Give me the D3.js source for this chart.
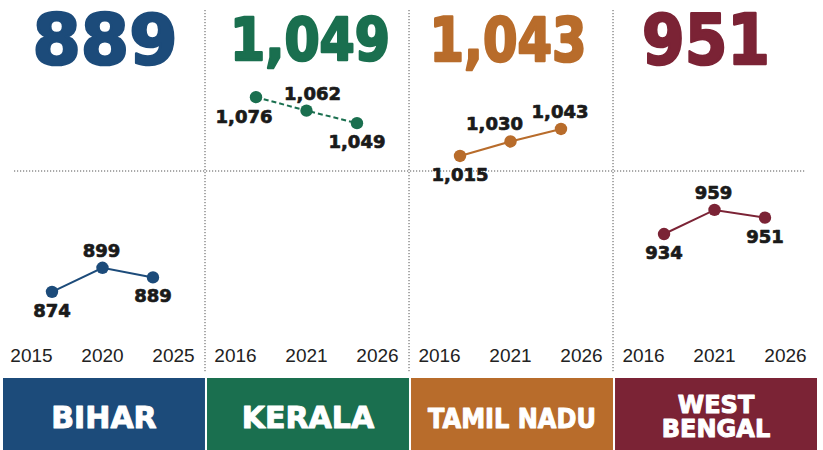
<!DOCTYPE html>
<html>
<head>
<meta charset="utf-8">
<script src="https://cdn.jsdelivr.net/npm/d3@7"></script>
<style>
  body { margin: 0; background: #fff; }
  svg { display: block; }
</style>
</head>
<body>
<svg id="chart"></svg>
<script>
// Data
const states = ["BIHAR", "KERALA", "TAMIL NADU", "WEST BENGAL"];
const tickYears = [
  ["2015", "2020", "2025"],
  ["2016", "2021", "2026"],
  ["2016", "2021", "2026"],
  ["2016", "2021", "2026"]
];
const bihar = [874, 899, 889];
const kerala = [1076, 1062, 1049];
const tamilNadu = [1015, 1030, 1043];
const westBengal = [934, 959, 951];
const series = [bihar, kerala, tamilNadu, westBengal];
const headline = ["889", "1,049", "1,043", "951"];

// Look
const colors = ["#1c4b7a", "#1a6f4f", "#b86c2b", "#7b2335"];
const dashed = [false, true, false, false];
const labelPlace = [
  ["below", "above", "below"],
  ["below-left", "above-right", "below"],
  ["below", "above-left", "above"],
  ["below", "above", "below"]
];
// headline type: size, stretched width, baseline, nudge
const headSize = [70, 59, 61, 70];
const headWidth = [145, 160, 157, 128];
const headBase = [64, 60, 61, 64];
const headDx = [1, 2, -4, -10];

const width = 823, height = 450;
const svg = d3.select("#chart").attr("width", width).attr("height", height);

const heavy = "'DejaVu Sans', Verdana, sans-serif";

const x0 = d3.scaleBand().domain(states).range([3, 817]).paddingInner(0.01);
const bw = x0.bandwidth();
const y = d3.scaleLinear().domain([850, 1100]).range([315, 74]);

const fmt = d3.format(",");
const place = {
  "below": [0, 25], "above": [-1, -11],
  "below-left": [-12, 26], "above-right": [6, -11], "above-left": [-16, -11]
};

/* -------------------------
   GRID: DOTTED DIVIDERS
-------------------------- */
svg.append("line")
  .attr("x1", 14).attr("x2", 806)
  .attr("y1", 171).attr("y2", 171)
  .attr("stroke", "#555").attr("stroke-width", 1)
  .attr("stroke-dasharray", "1.2,1.8");

svg.selectAll("line.vdiv")
  .data(states.slice(1))
  .enter()
  .append("line")
  .attr("class", "vdiv")
  .attr("x1", d => x0(d) - 2).attr("x2", d => x0(d) - 2)
  .attr("y1", 10).attr("y2", 373)
  .attr("stroke", "#555").attr("stroke-width", 1)
  .attr("stroke-dasharray", "1.2,1.8");

/* -------------------------
   PANELS
-------------------------- */
states.forEach((st, i) => {
  const left = x0(st);
  const g = svg.append("g");

  const xTick = d3.scalePoint().domain(tickYears[i]).range([left + 28, left + bw - 32]);
  const xDot = d3.scalePoint().domain(tickYears[i]).range([left + 49, left + bw - 52]);

  // headline number (stroke thickens the bold face)
  g.append("text")
    .attr("x", left + bw / 2 + headDx[i])
    .attr("y", headBase[i])
    .attr("text-anchor", "middle")
    .attr("font-family", heavy)
    .attr("font-weight", "bold")
    .attr("font-size", headSize[i])
    .attr("textLength", headWidth[i])
    .attr("lengthAdjust", "spacingAndGlyphs")
    .attr("fill", colors[i])
    .attr("stroke", colors[i])
    .attr("stroke-width", 2.6)
    .attr("stroke-linejoin", "round")
    .text(headline[i]);

  // year axis
  const axis = d3.axisBottom(xTick).tickSize(0).tickPadding(0);
  const ax = g.append("g").attr("transform", "translate(0,350)").call(axis);
  ax.select(".domain").remove();
  ax.selectAll("text")
    .attr("font-family", "'Liberation Sans', Arial, sans-serif")
    .attr("font-size", 19)
    .attr("fill", "#222")
    .attr("dy", "0.71em")
    .attr("y", -2);

  const pts = series[i].map((v, j) => ({ v, yr: tickYears[i][j], pos: labelPlace[i][j] }));

  const line = d3.line().x(d => xDot(d.yr)).y(d => y(d.v));
  g.append("path")
    .datum(pts)
    .attr("d", line)
    .attr("fill", "none")
    .attr("stroke", colors[i])
    .attr("stroke-width", 2)
    .attr("stroke-dasharray", dashed[i] ? "5,3" : null);

  g.selectAll("circle")
    .data(pts)
    .enter()
    .append("circle")
    .attr("cx", d => xDot(d.yr))
    .attr("cy", d => y(d.v))
    .attr("r", 6.2)
    .attr("fill", colors[i]);

  g.selectAll("text.val")
    .data(pts)
    .enter()
    .append("text")
    .attr("class", "val")
    .attr("x", d => xDot(d.yr) + place[d.pos][0])
    .attr("y", d => y(d.v) + place[d.pos][1])
    .attr("text-anchor", "middle")
    .attr("font-family", heavy)
    .attr("font-weight", "bold")
    .attr("font-size", 18)
    .attr("fill", "#1a1a1a")
    .attr("stroke", "#1a1a1a")
    .attr("stroke-width", 0.7)
    .attr("stroke-linejoin", "round")
    .text(d => fmt(d.v));

  // bottom state bar
  g.append("rect")
    .attr("x", left)
    .attr("y", 378)
    .attr("width", bw)
    .attr("height", height - 378)
    .attr("fill", colors[i]);

  const words = st === "WEST BENGAL" ? ["WEST", "BENGAL"] : [st];
  const fs = words.length > 1 ? 24 : (st.length > 8 ? 26 : 30);
  const lab = g.append("text")
    .attr("x", left + bw / 2)
    .attr("y", words.length > 1 ? 413 : 428)
    .attr("text-anchor", "middle")
    .attr("font-family", heavy)
    .attr("font-weight", "bold")
    .attr("font-size", fs)
    .attr("fill", "#fff")
    .attr("stroke", "#fff")
    .attr("stroke-width", 1)
    .attr("stroke-linejoin", "round");
  lab.selectAll("tspan")
    .data(words)
    .enter()
    .append("tspan")
    .attr("x", left + bw / 2)
    .attr("dy", (d, k) => k ? 24 : 0)
    .attr("textLength", st.length > 8 && words.length === 1 ? 168 : null)
    .attr("lengthAdjust", "spacingAndGlyphs")
    .text(d => d);
});
</script>
</body>
</html>
